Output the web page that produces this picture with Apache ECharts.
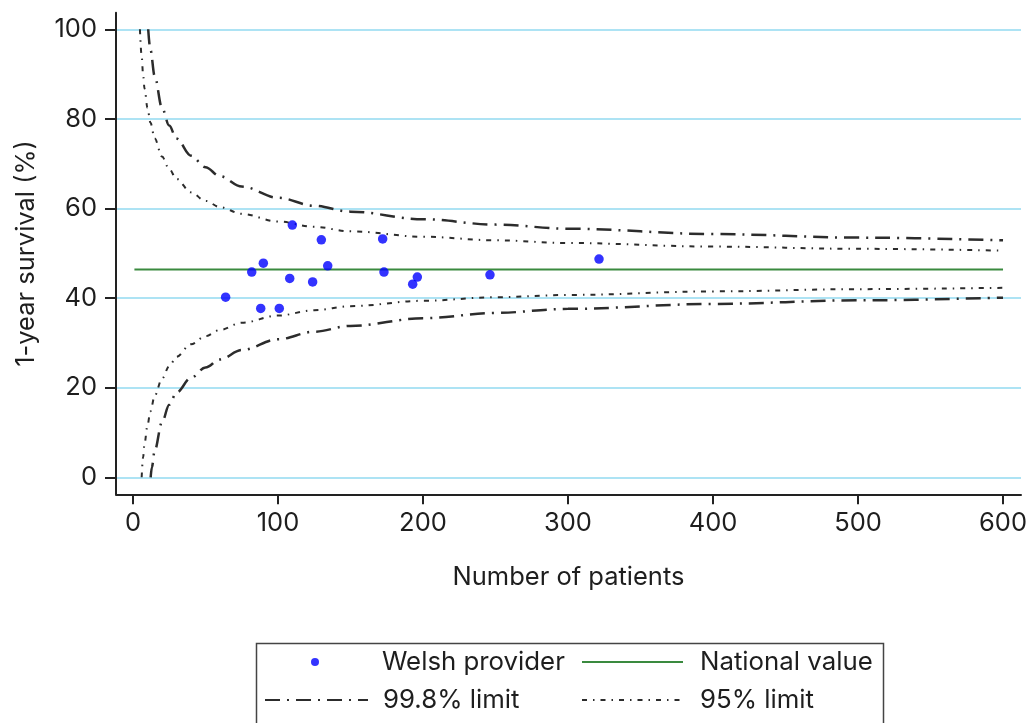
<!DOCTYPE html>
<html>
<head>
<meta charset="utf-8">
<script src="https://cdn.jsdelivr.net/npm/echarts@6/dist/echarts.min.js"></script>
<style>
html,body{margin:0;padding:0;background:#fff;}
#chart{width:1032px;height:723px;}
</style>
</head>
<body>
<div id="chart"></div>
<script>
// ---- data ----
const xTicks = [0, 100, 200, 300, 400, 500, 600];
const yTicks = [0, 20, 40, 60, 80, 100];

const providerN   = [109.9, 129.9, 172.2, 89.9, 81.9, 134.3, 173.1, 108.1, 123.9, 196.1, 192.9, 246.2, 63.9, 88.1, 100.9, 321.4];
const providerVal = [56.3, 53.0, 53.2, 47.8, 45.8, 47.2, 45.8, 44.4, 43.6, 44.7, 43.1, 45.2, 40.2, 37.7, 37.7, 48.7];

const nationalN   = [1, 600];
const nationalVal = [46.4, 46.4];

const upper998N   = [10.5, 12, 15, 20, 25, 30, 40, 50, 60, 75, 100, 125, 150, 200, 250, 300, 400, 500, 600];
const upper998Val = [100, 95.5, 89.5, 82.5, 78.5, 75.6, 71.8, 69.2, 67.2, 64.9, 62.4, 60.6, 59.3, 57.6, 56.4, 55.5, 54.3, 53.5, 52.9];

const lower998N   = [12.2, 13, 15, 20, 25, 30, 40, 50, 60, 75, 100, 125, 150, 200, 250, 300, 400, 500, 600];
const lower998Val = [0, 2.2, 6, 12.3, 16.2, 18.9, 22.2, 24.5, 26.3, 28.4, 30.8, 32.5, 33.8, 35.5, 36.7, 37.6, 38.7, 39.5, 40.1];

const upper95N    = [4.8, 6, 7, 8, 10, 12, 15, 20, 25, 30, 40, 50, 60, 75, 100, 125, 150, 200, 250, 300, 400, 500, 600];
const upper95Val  = [100, 94, 89.8, 86.7, 82.5, 79.2, 75.6, 71.6, 68.8, 66.6, 63.6, 61.7, 60.3, 58.8, 57.1, 55.9, 54.9, 53.7, 52.9, 52.3, 51.5, 51.0, 50.6];

const lower95N    = [6, 7, 8, 10, 12, 15, 20, 25, 30, 40, 50, 60, 75, 100, 125, 150, 200, 250, 300, 400, 500, 600];
const lower95Val  = [0, 4.5, 7.6, 11.6, 14.7, 18.2, 22, 24.8, 26.9, 29.7, 31.5, 32.9, 34.5, 36.1, 37.3, 38.2, 39.4, 40.2, 40.7, 41.5, 42.0, 42.3];

// ---- build ----
const zip = (a, b) => a.map((v, i) => [v, b[i]]);
const FONT = 'Inter';
const TXT = '#1e1e1e';
const AXFS = 25.5;
const LGFS = 25.8;

const dash998 = [15, 7, 2, 7];
const dash95 = [5, 6, 1.5, 6];
const limitColor = '#2c2c2c';

const chart = echarts.init(document.getElementById('chart'), null, {renderer: 'canvas'});

function limitSeries(name, n, v, dash, width) {
  return {
    name: name,
    type: 'line',
    data: zip(n, v),
    symbol: 'none',
    smooth: 0.35,
    smoothMonotone: 'x',
    silent: true,
    z: 3,
    lineStyle: {color: limitColor, width: width, type: dash},
    itemStyle: {color: limitColor}
  };
}

function legendItem(name, left, top, width, height, textGap) {
  return {
    orient: 'horizontal',
    left: left,
    top: top,
    padding: 0,
    itemWidth: width,
    itemHeight: height,
    selectedMode: false,
    data: [name],
    textStyle: {fontFamily: FONT, fontSize: LGFS, color: TXT, lineHeight: 28, padding: [0, 0, 0, textGap]}
  };
}

const option = {
  animation: false,
  backgroundColor: '#ffffff',
  textStyle: {fontFamily: FONT},
  grid: {left: 116, right: 11, top: 12.7, bottom: 228.7, containLabel: false},
  xAxis: {
    type: 'value',
    min: -11.7,
    max: 612.4,
    name: 'Number of patients',
    nameLocation: 'middle',
    nameGap: 70,
    nameTextStyle: {fontFamily: FONT, fontSize: AXFS, color: TXT},
    axisLine: {show: true, onZero: false, lineStyle: {color: '#222', width: 2}},
    axisTick: {show: true, length: 10, customValues: xTicks, lineStyle: {color: '#222', width: 2}},
    axisLabel: {customValues: xTicks, margin: 16, fontFamily: FONT, fontSize: AXFS, color: TXT},
    splitLine: {show: false}
  },
  yAxis: {
    type: 'value',
    min: -3.79,
    max: 103.7,
    name: '1-year survival (%)',
    nameLocation: 'middle',
    nameGap: 77,
    nameRotate: 90,
    nameTextStyle: {fontFamily: FONT, fontSize: AXFS, color: TXT},
    axisLine: {show: true, onZero: false, lineStyle: {color: '#222', width: 2}},
    axisTick: {show: true, length: 11, customValues: yTicks, lineStyle: {color: '#222', width: 2}},
    axisLabel: {customValues: yTicks, margin: 19, fontFamily: FONT, fontSize: AXFS, color: TXT},
    splitLine: {show: true, lineStyle: {color: '#ade3f4', width: 2}}
  },
  legend: [
    legendItem('Welsh provider', 311, 648, 8, 8, 58),
    legendItem('99.8% limit', 264, 686, 103, 0.1, 10),
    legendItem('National value', 581, 648, 101, 0.1, 12),
    legendItem('95% limit', 581, 686, 101, 0.1, 12)
  ],
  graphic: [
    {
      type: 'rect',
      left: 254,
      top: 641,
      shape: {width: 627, height: 110},
      style: {fill: 'none', stroke: '#444', lineWidth: 1.5},
      silent: true
    }
  ],
  series: [
    limitSeries('99.8% limit', upper998N, upper998Val, dash998, 2.5),
    limitSeries('99.8% limit', lower998N, lower998Val, dash998, 2.5),
    limitSeries('95% limit', upper95N, upper95Val, dash95, 2),
    limitSeries('95% limit', lower95N, lower95Val, dash95, 2),
    {
      name: 'National value',
      type: 'line',
      data: zip(nationalN, nationalVal),
      symbol: 'none',
      silent: true,
      z: 4,
      lineStyle: {color: '#3a8a3f', width: 2},
      itemStyle: {color: '#3a8a3f'}
    },
    {
      name: 'Welsh provider',
      type: 'scatter',
      data: zip(providerN, providerVal),
      symbol: 'circle',
      symbolSize: 9.5,
      z: 5,
      itemStyle: {color: '#0000ff'}
    }
  ]
};
chart.setOption(option);
</script>
</body>
</html>
